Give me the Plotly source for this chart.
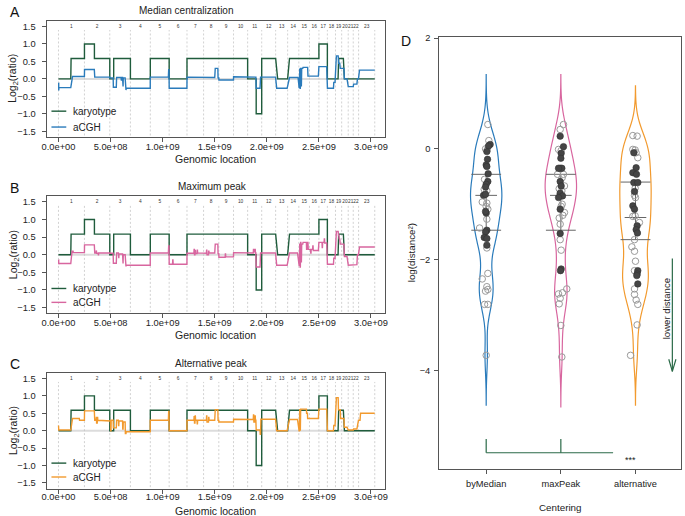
import plotly.graph_objects as go

W, H = 685, 516
FONT = "Liberation Sans, Arial, Helvetica, sans-serif"

# ---------------- data: genome ----------------
CHROM_LABELS = ["1", "2", "3", "4", "5", "6", "7", "8", "9", "10", "11", "12",
                "13", "14", "15", "16", "17", "18", "19", "20", "21", "22", "23"]
CHROM_LEN_MB = [249.25, 243.20, 198.02, 191.15, 180.92, 171.12, 159.14, 146.36,
                141.21, 135.53, 135.01, 133.85, 115.17, 107.35, 102.53, 90.35,
                81.20, 78.08, 59.13, 63.03, 48.13, 51.30, 155.27]

X_TICKS = [0, 5e8, 1e9, 1.5e9, 2e9, 2.5e9, 3e9]
X_TICK_TEXT = ["0.0e+00", "5.0e+08", "1.0e+09", "1.5e+09", "2.0e+09", "2.5e+09", "3.0e+09"]
Y_TICKS = [-1.5, -1.0, -0.5, 0.0, 0.5, 1.0, 1.5]
Y_TICK_TEXT = ["\u22121.5", "\u22121.0", "\u22120.5", "0.0", "0.5", "1.0", "1.5"]

# segments: (start Mb, end Mb, log2 ratio)
KARYOTYPE = [(0, 118, 0), (121, 249.3, 0.585), (249.3, 345, 1.0), (345, 492.4, 0.585),
             (492.4, 530, 0), (530, 690.5, 0.585), (690.5, 881.6, 0), (881.6, 1062.5, 0.585),
             (1062.5, 1233.7, 0), (1233.7, 1815.9, 0.585), (1815.9, 1898, 0), (1898, 1950.9, -1.0),
             (1950.9, 2084.8, 0.585), (2104, 2199.9, 0), (2218, 2500.2, 0.585), (2500.2, 2581.4, 1.0),
             (2581.4, 2684, 0), (2690, 2735, 0.585), (2745, 3036.3, 0)]

ACGH_MEDIAN = [(0.5, 2, -0.12), (2.5, 3.5, -0.33), (4, 118, -0.25), (135, 249, 0.07),
               (250, 344, 0.27), (348, 492, 0.05),
               (492, 525, 0.03), (527, 555, -0.24), (558, 600, 0.04), (602, 604, -0.05), (606, 615, 0.04),
               (617, 620, -0.22), (622, 640, 0.03), (642, 648, -0.32), (650, 690, -0.27),
               (690, 881, -0.27),
               (881, 1055, 0.05), (1058, 1061, 0.26),
               (1063, 1233, -0.27),
               (1234, 1392, 0.05),
               (1393, 1500, 0.04), (1505, 1530, 0.30), (1532, 1539, 0.03),
               (1540, 1680, -0.03),
               (1681, 1815, 0.06),
               (1816, 1895, 0.05), (1898, 1935, -0.27), (1940, 2084, 0.05),
               (2095, 2195, -0.27),
               (2218, 2300, 0.04),
               (2310, 2313, -0.25), (2316, 2318, 0.28), (2320, 2322, -0.27), (2325, 2327, 0.30),
               (2330, 2332, -0.20), (2335, 2345, 0.30),
               (2348, 2392, 0.33), (2395, 2495, 0.08),
               (2500, 2575, 0.35),
               (2582, 2640, -0.27), (2643, 2655, -0.10),
               (2668, 2685, 0.66), (2690, 2700, 0.45), (2705, 2740, 0.30), (2745, 2770, 0.0),
               (2782, 2830, -0.22), (2833, 2865, -0.15), (2870, 2880, 0.0), (2890, 3036, 0.25)]

ACGH_MAXPEAK = [(0.5, 2, -0.15), (2.5, 3.5, -0.27), (4, 118, -0.25), (130, 140, 0.10), (142, 249, 0.06),
                (250, 344, 0.28), (348, 360, 0.05), (362, 364, 0.12), (366, 380, 0.04), (382, 384, -0.02),
                (386, 492, 0.05),
                (492, 525, 0.04), (527, 555, -0.24), (558, 575, 0.05), (577, 579, -0.10), (581, 615, 0.02),
                (617, 620, -0.25), (622, 640, 0.0), (642, 648, -0.33), (650, 690, -0.30),
                (690, 881, -0.30),
                (881, 1055, 0.05), (1058, 1061, 0.25),
                (1063, 1095, -0.27), (1097, 1099, -0.15), (1101, 1233, -0.27),
                (1234, 1300, 0.04), (1302, 1304, 0.15), (1306, 1310, 0.0), (1312, 1314, 0.12),
                (1316, 1330, 0.03), (1332, 1334, 0.13), (1336, 1392, 0.05),
                (1393, 1420, 0.04), (1422, 1424, 0.13), (1426, 1440, 0.0), (1442, 1444, 0.10),
                (1446, 1500, 0.05), (1505, 1530, 0.30), (1532, 1539, 0.03),
                (1540, 1600, -0.07), (1602, 1604, 0.02), (1606, 1680, -0.06),
                (1681, 1815, 0.06),
                (1816, 1870, 0.05), (1872, 1874, 0.15), (1876, 1885, 0.08), (1887, 1889, 0.15),
                (1891, 1895, 0.05), (1898, 1935, -0.35), (1940, 2084, 0.05),
                (2095, 2195, -0.30),
                (2218, 2295, 0.05),
                (2310, 2313, -0.30), (2316, 2318, 0.30), (2320, 2322, -0.35), (2325, 2327, 0.35),
                (2330, 2332, -0.20), (2335, 2345, 0.30), (2348, 2380, 0.35), (2382, 2384, 0.15),
                (2386, 2395, 0.35), (2398, 2420, 0.15), (2422, 2424, 0.05), (2426, 2440, 0.15),
                (2442, 2444, 0.25), (2446, 2495, 0.12),
                (2500, 2530, 0.35), (2532, 2534, 0.20), (2536, 2550, 0.35), (2552, 2554, 0.45),
                (2556, 2575, 0.33),
                (2582, 2640, -0.27), (2643, 2655, -0.10),
                (2668, 2685, 0.66), (2688, 2692, 0.55), (2695, 2700, 0.45), (2705, 2740, 0.30),
                (2745, 2770, -0.05), (2782, 2830, -0.30), (2833, 2865, -0.28), (2870, 2880, 0.0),
                (2890, 3036, 0.22)]

ACGH_ALT = [(0.5, 1.5, 0.15), (2.5, 118, 0.02), (135, 200, 0.35), (202, 249, 0.30),
            (250, 344, 0.57), (348, 360, 0.30), (362, 364, 0.40), (366, 372, 0.22), (374, 376, 0.38),
            (378, 492, 0.30),
            (492, 500, 0.28), (502, 504, 0.0), (506, 525, 0.30), (527, 555, 0.08), (558, 575, 0.30),
            (577, 579, 0.15), (581, 615, 0.28), (617, 620, 0.05), (622, 640, 0.25), (642, 648, -0.08),
            (650, 690, -0.03),
            (690, 881, -0.03),
            (881, 1055, 0.30), (1058, 1061, 0.55),
            (1063, 1233, 0.0),
            (1234, 1300, 0.30), (1302, 1304, 0.40), (1306, 1310, 0.22), (1312, 1314, 0.42),
            (1316, 1330, 0.30), (1332, 1334, 0.20), (1336, 1392, 0.30),
            (1393, 1420, 0.30), (1422, 1424, 0.42), (1426, 1440, 0.25), (1442, 1444, 0.38),
            (1446, 1500, 0.30), (1505, 1530, 0.60), (1532, 1539, 0.30),
            (1540, 1680, 0.25),
            (1681, 1815, 0.33),
            (1816, 1870, 0.32), (1872, 1874, 0.45), (1876, 1885, 0.25), (1887, 1889, 0.42),
            (1891, 1895, 0.30), (1898, 1935, 0.02), (1937, 1940, -0.10), (1943, 2084, 0.33),
            (2095, 2195, 0.0),
            (2218, 2295, 0.32),
            (2310, 2313, 0.0), (2316, 2318, 0.60), (2320, 2322, 0.02), (2325, 2327, 0.62),
            (2330, 2345, 0.60), (2348, 2380, 0.62), (2382, 2390, 0.50), (2392, 2495, 0.35),
            (2500, 2575, 0.62),
            (2582, 2640, 0.0), (2643, 2655, 0.15),
            (2668, 2685, 0.95), (2688, 2692, 0.60), (2695, 2705, 0.60), (2708, 2740, 0.35),
            (2745, 2770, 0.10), (2782, 2830, 0.02), (2833, 2865, 0.05), (2880, 2895, 0.30),
            (2900, 3036, 0.50)]

PANEL_TITLES = ["Median centralization", "Maximum peak", "Alternative peak"]
PANEL_LETTERS = ["A", "B", "C"]
ACGH_SERIES = [ACGH_MEDIAN, ACGH_MAXPEAK, ACGH_ALT]
ACGH_COLORS = ["#2a7bbb", "#d8669f", "#f29a2e"]
KARYO_COLOR = "#1f5c3c"

# ---------------- data: panel D ----------------
CENTERINGS = ["byMedian", "maxPeak", "alternative"]
D_COLORS = ["#2a7bbb", "#d8669f", "#f29a2e"]

BYMEDIAN_VALS = [0.44, 0.15, 0.08, 0.05, 0.00, -0.02, -0.05, -0.19, -0.29, -0.32,
                 -0.45, -0.55, -0.59, -0.64, -0.69, -0.73, -0.76, -0.84, -0.82, -0.96,
                 -0.98, -1.04, -1.09, -1.16, -1.13, -1.27, -1.43, -1.47, -1.50, -1.60,
                 -1.62, -1.74, -1.79, -2.25, -2.35, -2.49, -2.57, -2.54, -2.81, -2.81, -3.73]
BYMEDIAN_JIT = [5, 8, 12, 7, -2, 3, 2, 4, 0, 2, 6, -5, 5, 0, -2, -6, 2, -8, -2, -12,
                2, 0, 5, 0, -2, 2, -20, 2, -2, -6, 2, 2, 2, 5, -12, 2, -2, 5, -5, 5, 0]
BYMEDIAN_FILLED = [0, 0, 1, 1, 0, 0, 1, 1, 1, 1, 1, 0, 1, 1, 1, 0, 0, 1, 1, 0,
                   0, 0, 0, 1, 1, 0, 0, 1, 1, 1, 1, 1, 0, 0, 0, 0, 0, 0, 0, 0, 0]

MAXPEAK_VALS = [0.44, 0.35, 0.23, -0.01, 0.04, -0.03, -0.08, -0.17, -0.35, -0.35,
                -0.35, -0.46, -0.46, -0.59, -0.67, -0.67, -0.76, -0.80, -0.85, -0.88,
                -1.04, -1.15, -1.09, -1.25, -1.36, -1.53, -1.64, -1.83, -2.17, -2.53,
                -2.62, -2.60, -2.70, -2.80, -3.19, -3.76, -0.72, -1.00, -0.52, -1.20, -2.20]
MAXPEAK_JIT = [8, -2, -2, -7, 8, 1, 1, 0, -2, 3, -7, -10, 8, -2, 1, 11, 3, -2, 5, -7,
               1, 11, -2, -5, -2, -2, -2, 1, 1, 18, -7, 5, -2, -5, 0, 3, -5, 4, 4, 6, -1]
MAXPEAK_FILLED = [0, 0, 1, 0, 1, 0, 1, 1, 1, 1, 1, 0, 0, 1, 1, 0, 0, 1, 1, 1,
                  0, 0, 1, 0, 0, 1, 0, 0, 1, 0, 0, 0, 0, 0, 0, 0, 0, 0, 0, 0, 1]

ALT_VALS = [0.24, 0.23, -0.01, -0.02, -0.07, -0.07, -0.16, -0.34, -0.43, -0.46,
            -0.61, -0.61, -0.71, -0.77, -0.84, -0.88, -1.03, -1.09, -1.21, -1.22,
            -1.33, -1.39, -1.46, -1.52, -1.64, -1.77, -1.85, -2.03, -2.20, -2.20,
            -2.26, -2.29, -2.44, -2.53, -2.63, -2.73, -2.81, -3.18, -3.73]
ALT_JIT = [-8, 5, -8, -1, 2, -5, 7, 2, -8, 3, -5, 7, -1, -3, -3, 0, -8, -3, -1, -8,
           12, 5, 2, 6, -3, -11, -3, 0, -3, 7, 5, 4, 7, -3, -3, 2, 7, 5, -15]
ALT_FILLED = [0, 0, 0, 0, 0, 1, 0, 1, 1, 1, 1, 1, 0, 1, 0, 0, 1, 1, 0, 0,
              0, 1, 1, 1, 0, 0, 0, 0, 0, 1, 1, 1, 1, 0, 0, 0, 0, 0, 0]

Q_UPPER = [-0.46, -0.46, -0.60]
Q_MEDIAN = [-0.84, -0.84, -1.24]
Q_LOWER = [-1.47, -1.47, -1.64]

D_VALS = [BYMEDIAN_VALS, MAXPEAK_VALS, ALT_VALS]
D_JIT = [BYMEDIAN_JIT, MAXPEAK_JIT, ALT_JIT]
D_FILLED = [BYMEDIAN_FILLED, MAXPEAK_FILLED, ALT_FILLED]


# ---------------- helpers ----------------
def px(x):
    return x / W


def py(y):
    return 1 - y / H


def steps(segs):
    xs, ys = [], []
    for s, e, v in segs:
        xs += [s * 1e6, e * 1e6]
        ys += [v, v]
    return xs, ys


cum = [0.0]
for L in CHROM_LEN_MB:
    cum.append(cum[-1] + L)
mids = [(cum[i] + cum[i + 1]) / 2 * 1e6 for i in range(len(CHROM_LEN_MB))]

fig = go.Figure()
annotations = []
shapes = []

AXLINE = "#555555"
common_axis = dict(showline=True, mirror=True, linecolor=AXLINE, linewidth=1,
                   ticks="outside", ticklen=4, tickcolor=AXLINE, showgrid=False,
                   zeroline=False, tickfont=dict(size=9.3, color="#222", family=FONT))

panels = [
    dict(ax="", ydom=(py(133.9), py(17.4)), title=(184, 6.5), letter=8, ytitle=75, xtitle=156.5,
         leg=(108, 124), xstand=-3),
    dict(ax="2", ydom=(py(311.7), py(194)), title=(209.5, 184), letter=185, ytitle=252.7, xtitle=333.5,
         leg=(286.7, 300.7), xstand=-3),
    dict(ax="3", ydom=(py(488.3), py(372.1)), title=(208.7, 362), letter=363, ytitle=430, xtitle=510.5,
         leg=(462.7, 476.7), xstand=-5),
]

for i, p in enumerate(panels):
    xa, ya = "x" + p["ax"], "y" + p["ax"]
    # zero reference
    fig.add_trace(go.Scatter(x=[0, cum[-1] * 1e6], y=[0, 0], mode="lines",
                             line=dict(color="#dcdcdc", width=2), xaxis=xa, yaxis=ya,
                             showlegend=False, hoverinfo="skip"))
    # chromosome boundaries
    bx, by = [], []
    for b in cum:
        bx += [b * 1e6, b * 1e6, None]
        by += [-1.62, 1.4, None]
    fig.add_trace(go.Scatter(x=bx, y=by, mode="lines",
                             line=dict(color="#c6c6c6", width=0.8, dash="2px,2px"),
                             xaxis=xa, yaxis=ya, showlegend=False, hoverinfo="skip"))
    # chromosome labels
    fig.add_trace(go.Scatter(x=mids, y=[1.5] * len(mids), mode="text", text=CHROM_LABELS,
                             textfont=dict(size=4.8, color="#333", family=FONT),
                             xaxis=xa, yaxis=ya, showlegend=False, hoverinfo="skip",
                             cliponaxis=False))
    kx, ky = steps(KARYOTYPE)
    fig.add_trace(go.Scatter(x=kx, y=ky, mode="lines", name="karyotype",
                             line=dict(color=KARYO_COLOR, width=1.4),
                             xaxis=xa, yaxis=ya, showlegend=False))
    axx, ayy = steps(ACGH_SERIES[i])
    fig.add_trace(go.Scatter(x=axx, y=ayy, mode="lines", name="aCGH",
                             line=dict(color=ACGH_COLORS[i], width=1.4),
                             xaxis=xa, yaxis=ya, showlegend=False))

    fig.update_layout(**{
        "xaxis" + p["ax"]: dict(common_axis, domain=[px(42), px(384)], range=[-1.15e8, 3.13e9],
                               tickvals=X_TICKS, ticktext=X_TICK_TEXT, anchor=ya,
                               ticklabelstandoff=p["xstand"]),
        "yaxis" + p["ax"]: dict(common_axis, domain=list(p["ydom"]), range=[-1.66, 1.65],
                               tickvals=Y_TICKS, ticktext=Y_TICK_TEXT, anchor=xa,
                               ticklabelstandoff=4),
    })

    annotations.append(dict(text=PANEL_LETTERS[i], x=px(3), y=py(p["letter"]), xref="paper", yref="paper",
                            xanchor="left", yanchor="middle", showarrow=False,
                            font=dict(size=14, color="#111", family=FONT)))
    annotations.append(dict(text=PANEL_TITLES[i], x=px(p["title"][0]), y=py(p["title"][1]),
                            xref="paper", yref="paper", xanchor="center", yanchor="middle",
                            showarrow=False, font=dict(size=10, color="#222", family=FONT)))
    annotations.append(dict(text="Log<sub>2</sub>(ratio)", x=px(8.5), y=py(p["ytitle"]),
                            xref="paper", yref="paper", xanchor="center", yanchor="middle",
                            textangle=-90, showarrow=False,
                            font=dict(size=10.5, color="#222", family=FONT)))
    annotations.append(dict(text="Genomic location", x=px(212.5), y=py(p["xtitle"]),
                            xref="paper", yref="paper", xanchor="center", yanchor="middle",
                            showarrow=False, font=dict(size=10.5, color="#222", family=FONT)))
    # legend
    for lab, col, yy in [("karyotype", KARYO_COLOR, p["leg"][0]), ("aCGH", ACGH_COLORS[i], p["leg"][1])]:
        shapes.append(dict(type="line", xref="paper", yref="paper", x0=px(47), x1=px(62),
                           y0=py(yy), y1=py(yy), line=dict(color=col, width=1.4)))
        annotations.append(dict(text=lab, x=px(66.5), y=py(yy), xref="paper", yref="paper",
                                xanchor="left", yanchor="middle", showarrow=False,
                                font=dict(size=10, color="#222", family=FONT)))

# ---------------- panel D ----------------
for j in range(3):
    vals = D_VALS[j]
    pos = j + 1
    fig.add_trace(go.Violin(x=[pos] * len(vals), y=vals, xaxis="x4", yaxis="y4",
                            orientation="v", bandwidth=0.3, spanmode="manual",
                            span=[min(vals) - 0.9, max(vals) + 0.9], width=0.42,
                            scalemode="width", line=dict(color=D_COLORS[j], width=1.2),
                            fillcolor="rgba(0,0,0,0)", points=False,
                            box=dict(visible=False), meanline=dict(visible=False),
                            showlegend=False, hoverinfo="skip", name=CENTERINGS[j]))
    qx = [pos - 0.2, pos + 0.2, None, pos - 0.145, pos + 0.145, None, pos - 0.2, pos + 0.2, None, pos, pos]
    qy = [Q_UPPER[j], Q_UPPER[j], None, Q_MEDIAN[j], Q_MEDIAN[j], None, Q_LOWER[j], Q_LOWER[j], None,
          Q_UPPER[j], Q_LOWER[j]]
    fig.add_trace(go.Scatter(x=qx, y=qy, mode="lines", line=dict(color="#666", width=1),
                             xaxis="x4", yaxis="y4", showlegend=False, hoverinfo="skip"))
    ox = [pos + d / 226.5 for d, f in zip(D_JIT[j], D_FILLED[j]) if not f]
    oy = [v for v, f in zip(vals, D_FILLED[j]) if not f]
    fx = [pos + d / 226.5 for d, f in zip(D_JIT[j], D_FILLED[j]) if f]
    fy = [v for v, f in zip(vals, D_FILLED[j]) if f]
    fig.add_trace(go.Scatter(x=ox, y=oy, mode="markers",
                             marker=dict(symbol="circle-open", size=6.5, color="#9a9a9a",
                                         line=dict(width=1)),
                             xaxis="x4", yaxis="y4", showlegend=False))
    fig.add_trace(go.Scatter(x=fx, y=fy, mode="markers",
                             marker=dict(symbol="circle", size=6.5, color="#454545",
                                         line=dict(width=0.6, color="#333")),
                             xaxis="x4", yaxis="y4", showlegend=False))

GREEN = "#2b6a48"
ARROW_X = 3.494
# arrow head for "lower distance"
fig.add_trace(go.Scatter(x=[ARROW_X - 0.048, ARROW_X, ARROW_X + 0.048], y=[-3.8, -4.02, -3.8],
                         mode="lines", line=dict(color=GREEN, width=1.2),
                         xaxis="x4", yaxis="y4", showlegend=False, hoverinfo="skip"))

fig.update_layout(
    xaxis4=dict(common_axis, domain=[px(439.3), px(684)], range=[0.37, 3.61],
                tickvals=[1, 2, 3], ticktext=CENTERINGS, anchor="y4", ticklabelstandoff=1),
    yaxis4=dict(common_axis, domain=[py(469), py(33.3)], range=[-5.79, 2.02],
                tickvals=[-4, -2, 0, 2], ticktext=["\u22124", "\u22122", "0", "2"], anchor="x4",
                ticklabelstandoff=2),
)

shapes += [
    dict(type="line", xref="x4", yref="y4", x0=1, x1=2.7, y0=-5.49, y1=-5.49, line=dict(color=GREEN, width=1.2)),
    dict(type="line", xref="x4", yref="y4", x0=1, x1=1, y0=-5.24, y1=-5.49, line=dict(color=GREEN, width=1.2)),
    dict(type="line", xref="x4", yref="y4", x0=2, x1=2, y0=-5.24, y1=-5.49, line=dict(color=GREEN, width=1.2)),
    dict(type="line", xref="x4", yref="y4", x0=ARROW_X, x1=ARROW_X, y0=-1.98, y1=-4.02,
         line=dict(color=GREEN, width=1.2)),
]
annotations += [
    dict(text="***", x=2.93, y=-5.62, xref="x4", yref="y4", showarrow=False,
         font=dict(size=9, color="#222", family=FONT)),
    dict(text="lower distance", x=px(669.5), y=py(307), xref="paper", yref="paper",
         textangle=-90, showarrow=False, xanchor="center", yanchor="middle",
         font=dict(size=9.6, color="#222", family=FONT)),
    dict(text="D", x=px(399), y=py(37), xref="paper", yref="paper", xanchor="left",
         yanchor="middle", showarrow=False, font=dict(size=14, color="#111", family=FONT)),
    dict(text="log(distance\u00b2)", x=px(411), y=py(251), xref="paper", yref="paper",
         textangle=-90, showarrow=False, xanchor="center", yanchor="middle",
         font=dict(size=9.8, color="#222", family=FONT)),
    dict(text="Centering", x=px(562), y=py(507), xref="paper", yref="paper",
         showarrow=False, xanchor="center", yanchor="middle",
         font=dict(size=9.8, color="#222", family=FONT)),
]

fig.update_layout(width=W, height=H, autosize=False, margin=dict(l=0, r=0, t=0, b=0),
                  paper_bgcolor="white", plot_bgcolor="white", violinmode="overlay",
                  showlegend=False, annotations=annotations, shapes=shapes,
                  font=dict(family=FONT, color="#222"))

fig.write_html("out.html", config={"displayModeBar": False},
               post_script="document.body.style.margin='0px';document.body.style.padding='0px';"
                           "document.body.style.overflow='hidden';")
